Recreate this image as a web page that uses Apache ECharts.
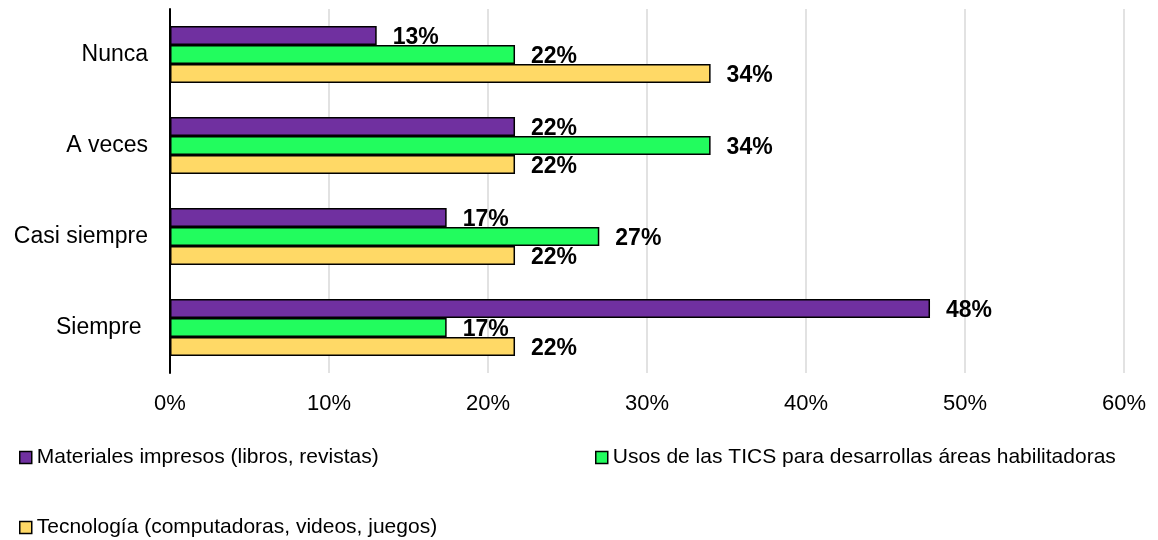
<!DOCTYPE html>
<html>
<head>
<meta charset="utf-8">
<script src="https://cdn.jsdelivr.net/npm/echarts@6/dist/echarts.min.js"></script>
<style>html,body{margin:0;padding:0;background:#fff;}#c{width:1158px;height:540px;}</style>
</head>
<body>
<div id="c"></div>
<script>
const categories = ['Nunca', 'A veces', 'Casi siempre', 'Siempre '];
const seriesNames = ['Materiales impresos (libros, revistas)', 'Usos de las TICS para desarrollas áreas habilitadoras', 'Tecnología (computadoras, videos, juegos)'];
const impresos = [13.0, 21.7, 17.4, 47.8];
const tics = [21.7, 34.0, 27.0, 17.4];
const tecnologia = [34.0, 21.7, 21.7, 21.7];
const xTicks = [0, 10, 20, 30, 40, 50, 60];
const colors = ['#7030A0', '#22FC5E', '#FFD966'];

const font = 'Liberation Sans, Arial, sans-serif';
const chart = echarts.init(document.getElementById('c'));
function mk(name, data, color) {
  return {
    name: name, type: 'bar', data: data, barWidth: 19, barGap: '0%',
    itemStyle: { color: color, borderColor: '#000', borderWidth: 1.5 },
    label: { show: true, position: 'right', distance: 16, offset: [0, 2], fontFamily: font, fontSize: 23, fontWeight: 'bold', color: '#000',
      formatter: p => Math.round(p.value) + '%' }
  };
}
const legendBase = { orient: 'horizontal', itemWidth: 12, itemHeight: 12, icon: 'rect',
  textStyle: { fontFamily: font, fontSize: 21, color: '#000' }, itemStyle: { borderColor: '#000', borderWidth: 1.5 } };
chart.setOption({
  animation: false,
  grid: { left: 170, right: 34, top: 9, bottom: 167, containLabel: false },
  xAxis: {
    type: 'value', min: xTicks[0], max: xTicks[xTicks.length - 1], interval: 10,
    axisLine: { show: false }, axisTick: { show: false },
    splitLine: { lineStyle: { color: '#d9d9d9', width: 1.5 } },
    axisLabel: { fontFamily: font, fontSize: 22, color: '#000', margin: 20, formatter: v => v + '%' }
  },
  yAxis: {
    type: 'category', data: categories, inverse: true,
    axisLine: { lineStyle: { color: '#000', width: 2 } }, axisTick: { show: false },
    axisLabel: { fontFamily: font, fontSize: 23, color: '#000', margin: 22 }
  },
  legend: [
    Object.assign({}, legendBase, { left: 14, top: 442, data: [seriesNames[0]] }),
    Object.assign({}, legendBase, { left: 590, top: 442, data: [seriesNames[1]] }),
    Object.assign({}, legendBase, { left: 14, top: 512, data: [seriesNames[2]] })
  ],
  series: [mk(seriesNames[0], impresos, colors[0]), mk(seriesNames[1], tics, colors[1]), mk(seriesNames[2], tecnologia, colors[2])]
});
</script>
</body>
</html>
